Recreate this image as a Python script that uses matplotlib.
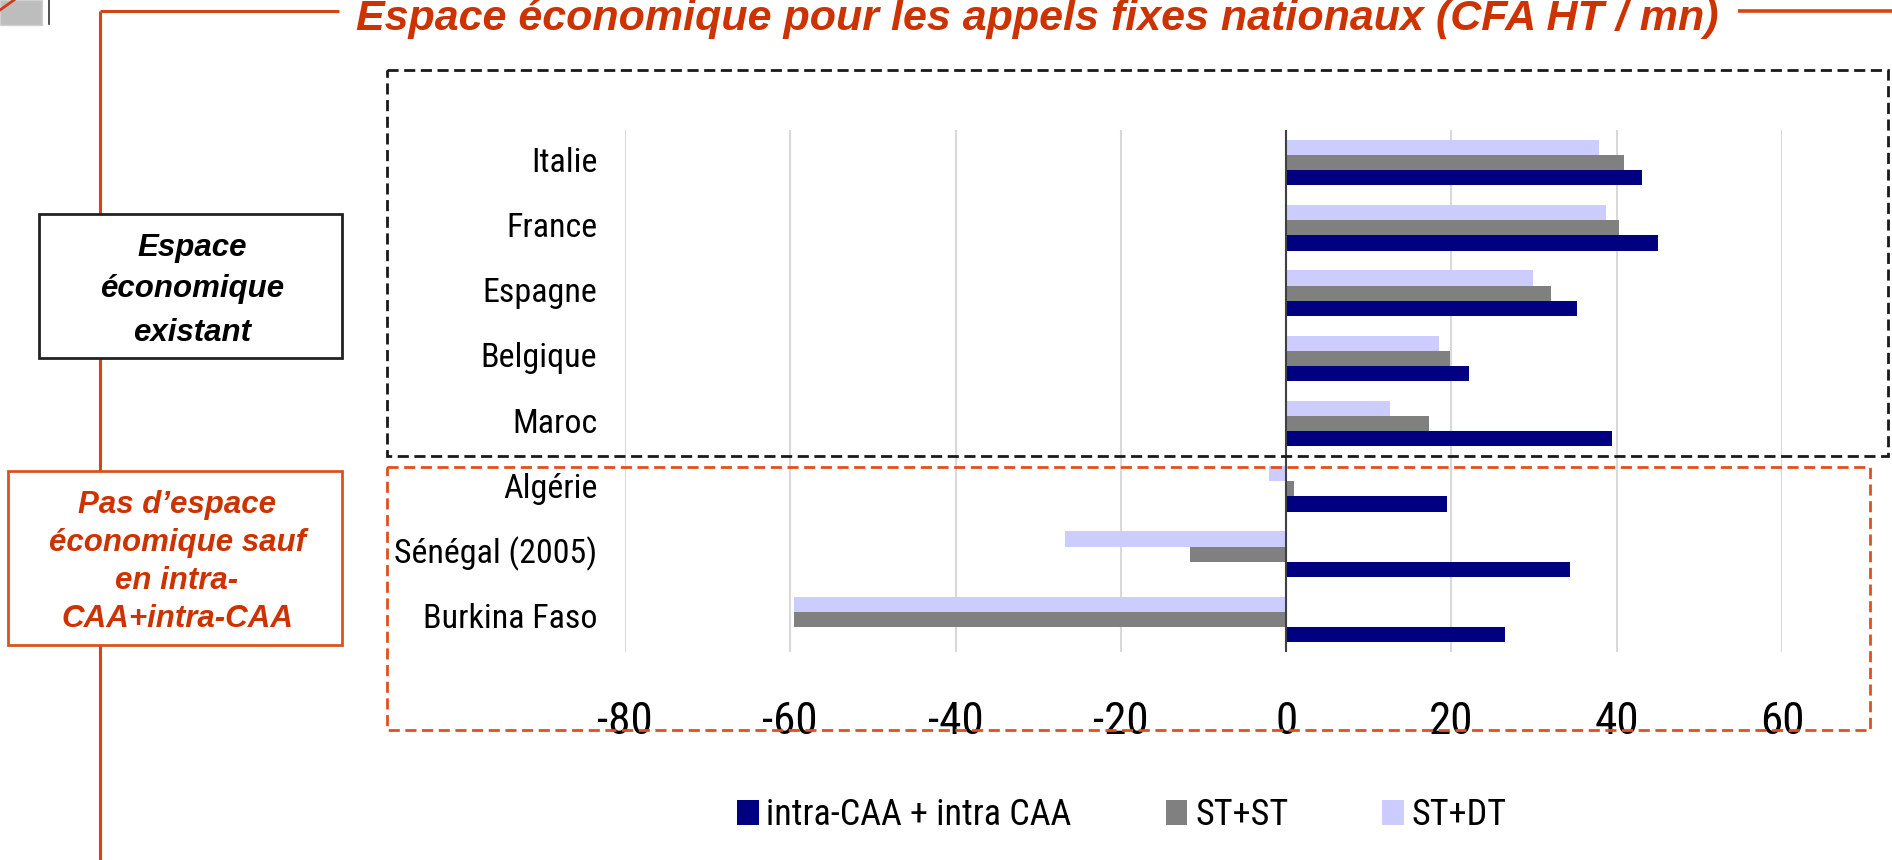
import matplotlib
matplotlib.use("Agg")
import matplotlib.pyplot as plt
from matplotlib import font_manager
from matplotlib.patches import Rectangle
import numpy as np

# ---------------- data ----------------
categories = ["Italie", "France", "Espagne", "Belgique", "Maroc",
              "Algérie", "Sénégal (2005)", "Burkina Faso"]
intra_caa = [43.0, 45.0, 35.2, 22.1, 39.4, 19.5, 34.4, 26.5]
st_st = [40.9, 40.3, 32.0, 19.8, 17.3, 0.9, -11.6, -59.6]
st_dt = [37.9, 38.75, 29.9, 18.5, 12.6, -2.1, -26.8, -59.6]
series_names = ["intra-CAA + intra CAA", "ST+ST", "ST+DT"]
x_ticks = [-80, -60, -40, -20, 0, 20, 40, 60]
title = "Espace économique pour les appels fixes nationaux (CFA HT / mn)"
box1_lines = ["Espace", "économique", "existant"]
box2_lines = ["Pas d\u2019espace", "économique sauf", "en intra-", "CAA+intra-CAA"]

# ---------------- fonts ----------------
names = {f.name for f in font_manager.fontManager.ttflist}
NARROW = "Liberation Sans"
for cand in ["Liberation Sans Narrow", "Roboto Condensed", "Archivo Narrow",
             "PT Sans Narrow", "Asap Condensed"]:
    if cand in names:
        NARROW = cand
        break
WIDE = "Liberation Sans"
plt.rcParams["font.family"] = [NARROW, "DejaVu Sans"]

W, H = 1892, 860
fig = plt.figure(figsize=(W / 100, H / 100), dpi=100)

def fx(px):
    return px / W

def fy(py):
    return 1 - py / H

# ---------------- chart ----------------
ax_left, ax_right, ax_top, ax_bottom = 625, 1782, 130, 652
ax = fig.add_axes([fx(ax_left), fy(ax_bottom), fx(ax_right - ax_left), (ax_bottom - ax_top) / H])

y = np.arange(len(categories))
h = 0.233
c_navy, c_gray, c_light = "#000080", "#808080", "#CCCCFF"
b1 = ax.barh(y + h, intra_caa, height=h, color=c_navy, zorder=3, label=series_names[0])
b2 = ax.barh(y, st_st, height=h, color=c_gray, zorder=3, label=series_names[1])
b3 = ax.barh(y - h, st_dt, height=h, color=c_light, zorder=3, label=series_names[2])

ax.set_xlim(-80, 60)
ax.set_ylim(len(categories) - 0.5, -0.5)
ax.set_xticks(x_ticks)
ax.set_xticklabels([str(t) for t in x_ticks], fontsize=32.5, family=[NARROW, "DejaVu Sans"])
ax.set_yticks(y)
ax.set_yticklabels(categories, fontsize=24.5, family=[NARROW, "DejaVu Sans"])
for lab in ax.get_yticklabels():
    lab.set_va("center")
ax.tick_params(axis="x", length=0, pad=35.5)
ax.tick_params(axis="y", length=0, pad=20)
for s in ax.spines.values():
    s.set_visible(False)
ax.grid(axis="x", color="#D9D9D9", linewidth=1.5, zorder=0)
ax.axvline(0, color="#404040", linewidth=1.5, zorder=4)
ax.set_axisbelow(True)

fig.legend(handles=[b1, b2, b3], labels=series_names, loc="center",
           bbox_to_anchor=(fx(1122), fy(815)), ncol=3, frameon=False,
           prop={"family": [NARROW, "DejaVu Sans"], "size": 26},
           handlelength=0.6, handleheight=0.72, handletextpad=0.22,
           columnspacing=2.6, borderaxespad=0)

# ---------------- decorations (pixel coordinates) ----------------
ov = fig.add_axes([0, 0, 1, 1])
ov.set_xlim(0, W)
ov.set_ylim(H, 0)
ov.axis("off")
ov.patch.set_visible(False)

orange = "#D24516"
title_red = "#CC3300"

# icon top-left
ov.add_patch(Rectangle((0, 0), 42, 25, facecolor="#BDBDBD", edgecolor="#D0D0D0", lw=1, zorder=2))
ov.plot([0, 14], [10, 0], color="#D03A1A", lw=2, zorder=3)
ov.plot([49, 49], [0, 24], color="#333333", lw=1.2, zorder=3)

# orange frame lines
ov.plot([100, 100], [11, 860], color=orange, lw=2.2, zorder=1, solid_capstyle="butt")
ov.plot([100, 339], [11, 11], color=orange, lw=2.2, zorder=1, solid_capstyle="butt")
ov.plot([1738, 1892], [11, 11], color=orange, lw=2.6, zorder=1, solid_capstyle="butt")

# title
ov.text(1037, 30, title, fontsize=31, fontweight="bold", fontstyle="italic",
        color=title_red, ha="center", va="baseline", family=[WIDE, "DejaVu Sans"])

# left boxes
ov.add_patch(Rectangle((39, 214), 303, 144, facecolor="white", edgecolor="#222222", lw=2, zorder=2))
for txt, yy in zip(box1_lines, [256, 297, 341]):
    ov.text(192, yy, txt, fontsize=22.5, fontweight="bold", fontstyle="italic",
            color="black", ha="center", va="baseline", family=[WIDE, "DejaVu Sans"], zorder=3)

ov.add_patch(Rectangle((8, 471), 334, 174, facecolor="white", edgecolor="#D9531E", lw=2, zorder=2))
for txt, yy in zip(box2_lines, [513, 551, 589, 627]):
    ov.text(177, yy, txt, fontsize=22.5, fontweight="bold", fontstyle="italic",
            color=title_red, ha="center", va="baseline", family=[WIDE, "DejaVu Sans"], zorder=3)

# dashed boxes
ov.add_patch(Rectangle((387, 70), 1501, 386, facecolor="none", edgecolor="#1A1A1A",
                       lw=2, linestyle=(0, (4, 2)), zorder=5))
ov.add_patch(Rectangle((387, 467), 1483, 263, facecolor="none", edgecolor="#E0501E",
                       lw=2, linestyle=(0, (4, 2)), zorder=5))

fig.savefig("out.png", dpi=100)
